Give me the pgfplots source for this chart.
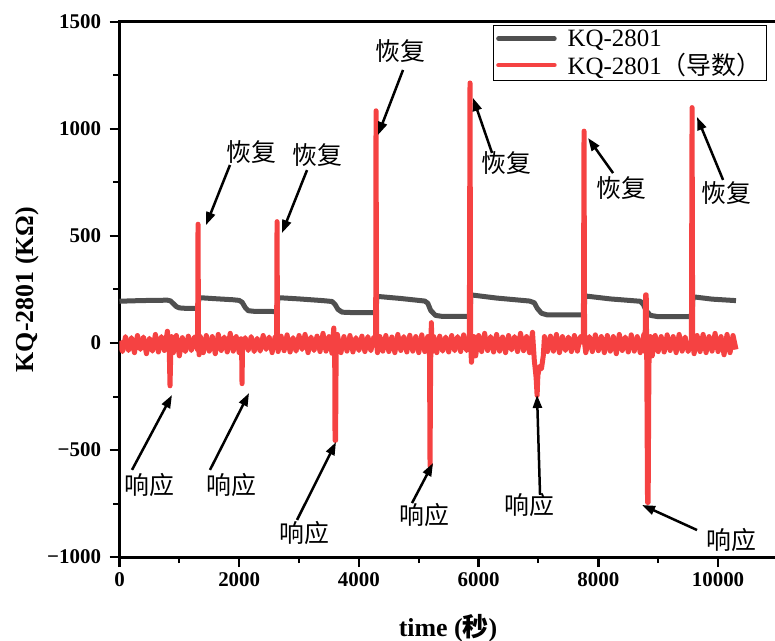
\documentclass[border=0pt]{standalone}
\usepackage{fontspec}
\setmainfont{Liberation Serif}
\newfontfamily\cjk{Noto Sans CJK SC}
\usepackage{pgfplots}
\pgfplotsset{compat=1.18}
\usetikzlibrary{arrows.meta}
\definecolor{myred}{RGB}{245,66,66}
\definecolor{mygray}{RGB}{80,80,80}
\begin{document}
\begin{tikzpicture}
\begin{axis}[
  at={(0,0)}, anchor=south west,
  scale only axis, width=658.4bp, height=535bp,
  xmin=0, xmax=11000, ymin=-1000, ymax=1500,
  xtick={0,2000,...,10000}, minor xtick={1000,3000,...,9000},
  ytick={-1000,-500,...,1500}, minor ytick={-750,-250,...,1250},
  yticklabels={−1000,−500,0,500,1000,1500},
  scaled x ticks=false,
  tick pos=left, tick align=outside,
  major tick length=10bp, minor tick length=6bp,
  major tick style={black, line width=2.5bp},
  minor tick style={black, line width=2bp},
  axis line style={line width=3bp},
  tick label style={font=\fontsize{21}{21}\selectfont\bfseries},
  yticklabel style={xshift=-5bp},
  xticklabel style={yshift=-2bp},
  /pgf/number format/assume math mode=true,
  /pgf/number format/1000 sep={},
  xlabel={time ({\cjk\bfseries 秒})}, ylabel={KQ-2801 (KΩ)},
  every axis x label/.style={at={(axis description cs:0.499,0)}, anchor=center, yshift=-71bp,
     font=\fontsize{26}{26}\selectfont\bfseries},
  every axis y label/.style={at={(axis description cs:0,0.5)}, anchor=center, rotate=90, yshift=92bp,
     font=\fontsize{26}{26}\selectfont\bfseries},
  legend style={at={(axis description cs:0.567,0.994)}, anchor=north west, draw=black, line width=0.8bp,
    font=\fontsize{25}{25}\selectfont, inner xsep=3bp, inner ysep=2bp, row sep=2bp,
    nodes={inner sep=2bp}, cells={anchor=west},
    /tikz/every odd column/.append style={column sep=9bp}},
  legend image code/.code={\draw[#1, line width=4.5bp, line cap=round] (0bp,0bp) -- (56bp,0bp);},
]
\addplot[mygray, line width=5bp, line join=round] coordinates {
(0,195)(200,197)(500,199)(800,200)(850,197)(900,184)(950,170)(1000,164)(1100,162)(1312,162)
(1325,212)(1600,207)(1900,202)(2000,199)(2050,190)(2100,166)(2150,151)(2250,148)(2632,147)
(2645,212)(3000,206)(3400,198)(3550,194)(3600,181)(3650,157)(3720,144)(3900,142)(4286,142)
(4300,218)(4700,208)(5100,196)(5150,186)(5200,152)(5280,129)(5400,124)(5856,125)
(5870,225)(6300,210)(6850,196)(6930,188)(6980,162)(7050,139)(7150,131)(7761,131)
(7775,220)(8200,206)(8700,195)(8750,181)(8800,151)(8870,129)(9000,123)(9566,123)
(9580,216)(9900,205)(10300,198)
};
\addlegendentry{KQ-2801}
\addplot[myred, line width=5bp, line join=round] table {
t v
0 10
50 -40
100 30
150 -35
200 25
250 -45
300 35
350 -30
400 28
450 -50
500 22
550 -38
600 40
650 -42
700 30
750 -35
800 55
830 -20
844 -200
858 -30
870 30
900 -45
950 35
1000 -60
1050 25
1100 -40
1150 32
1200 -35
1250 28
1300 -30
1305 0
1312 555
1320 0
1330 -55
1350 30
1400 -45
1450 35
1500 -38
1550 30
1600 -50
1650 40
1700 -35
1750 28
1800 -42
1850 45
1900 -38
1950 30
2000 -45
2030 20
2040 -20
2047 -190
2055 -30
2100 25
2150 -35
2200 30
2250 -40
2300 22
2350 -38
2400 35
2450 -30
2500 28
2550 -45
2600 30
2625 0
2632 567
2640 0
2650 -40
2700 32
2750 -36
2800 38
2850 -42
2900 25
2950 -38
3000 35
3050 -30
3100 40
3150 -45
3200 28
3250 -35
3300 32
3350 -40
3400 45
3450 -38
3500 30
3550 -48
3580 70
3595 -30
3601 -455
3610 -455
3620 -30
3640 40
3700 -45
3750 30
3800 -38
3850 35
3900 -42
3950 25
4000 -35
4050 32
4100 -40
4150 30
4200 -36
4250 28
4280 0
4286 1085
4295 0
4310 -45
4350 30
4400 -38
4450 35
4500 -40
4550 28
4600 -45
4650 40
4700 -35
4750 30
4800 -42
4850 36
4900 -38
4950 30
5000 -45
5050 38
5100 -40
5150 30
5180 -60
5188 -575
5198 -100
5210 95
5225 -40
5250 30
5300 -45
5350 32
5400 -38
5450 28
5500 -42
5550 35
5600 -36
5650 30
5700 -40
5750 38
5800 -35
5845 0
5856 1215
5866 0
5880 -90
5920 30
5950 -60
6000 35
6050 -40
6100 45
6150 -35
6200 30
6250 -42
6300 40
6350 -38
6400 28
6450 -45
6500 35
6550 -32
6600 30
6650 -40
6700 45
6750 -36
6800 30
6850 -45
6900 50
6930 -80
6960 -160
6977 -245
6990 -150
7020 -110
7050 -120
7080 -60
7100 30
7150 -40
7200 32
7250 -38
7300 40
7350 -45
7400 30
7450 -35
7500 28
7550 -40
7600 35
7650 -38
7700 30
7750 0
7761 990
7770 0
7790 -45
7850 30
7900 -40
7950 38
8000 -36
8050 30
8100 -45
8150 35
8200 -38
8250 30
8300 -50
8350 40
8400 -35
8450 28
8500 -42
8550 38
8600 -38
8650 30
8700 -45
8760 40
8780 -40
8790 225
8800 225
8810 -120
8822 -745
8832 -745
8845 -100
8870 30
8900 -60
8950 35
9000 -40
9050 30
9100 -42
9150 38
9200 -35
9250 30
9300 -45
9350 40
9400 -38
9450 28
9500 -40
9555 0
9566 1100
9576 0
9600 -50
9650 35
9700 -40
9750 40
9800 -45
9850 30
9900 -38
9950 45
10000 -40
10050 30
10100 -55
10150 40
10200 -45
10250 35
10300 -30
};
\addlegendentry{KQ-2801{\cjk （导数）}\hspace{25bp}}
% annotations
\tikzset{ann/.style={-{Triangle[length=13bp,width=9bp]}, line width=2.5bp, black},
         lab/.style={font=\cjk\fontsize{25}{25}\selectfont, inner sep=0pt}}
\draw[ann] (axis cs:1846,832) -- (axis cs:1445,551);
\node[lab] at (axis cs:2197,893) {恢复};
\draw[ann] (axis cs:3133,808) -- (axis cs:2715,514);
\node[lab] at (axis cs:3300,879) {恢复};
\draw[ann] (axis cs:4737,1276) -- (axis cs:4319,972);
\node[lab] at (axis cs:4687,1364) {恢复};
\draw[ann] (axis cs:6224,888) -- (axis cs:5907,1145);
\node[lab] at (axis cs:6458,841) {恢复};
\draw[ann] (axis cs:8246,794) -- (axis cs:7828,958);
\node[lab] at (axis cs:8379,724) {恢复};
\draw[ann] (axis cs:10084,762) -- (axis cs:9649,1056);
\node[lab] at (axis cs:10134,701) {恢复};
\draw[ann] (axis cs:209,-593) -- (axis cs:877,-243);
\node[lab] at (axis cs:493,-664) {响应};
\draw[ann] (axis cs:1512,-593) -- (axis cs:2164,-234);
\node[lab] at (axis cs:1863,-664) {响应};
\draw[ann] (axis cs:2966,-827) -- (axis cs:3617,-463);
\node[lab] at (axis cs:3083,-888) {响应};
\draw[ann] (axis cs:4887,-748) -- (axis cs:5238,-561);
\node[lab] at (axis cs:5088,-804) {响应};
\draw[ann] (axis cs:7026,-710) -- (axis cs:6976,-243);
\node[lab] at (axis cs:6847,-757) {响应};
\draw[ann] (axis cs:9649,-874) -- (axis cs:8731,-757);
\node[lab] at (axis cs:10217,-921) {响应};
\end{axis}
\pgfresetboundingbox
\path[use as bounding box] (-119.5bp,-84bp) rectangle (655.5bp,557bp);
\end{tikzpicture}
\end{document}
